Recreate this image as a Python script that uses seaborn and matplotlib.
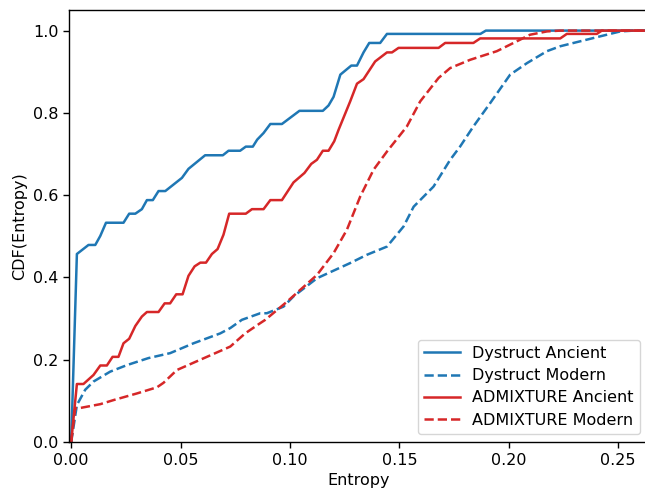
import matplotlib
matplotlib.use("Agg")
import matplotlib.pyplot as plt
import seaborn as sns
import pandas as pd

# Dystruct Ancient
dys_anc_x = [0.0, 0.0026, 0.0079, 0.011, 0.0133, 0.0159, 0.0239, 0.0265, 0.0293, 0.0323, 0.0346,
             0.0373, 0.0399, 0.043, 0.0506, 0.0536, 0.0612, 0.0693, 0.0719, 0.0772, 0.0798, 0.0830,
             0.0850, 0.0879, 0.091, 0.0963, 0.1043, 0.115, 0.1176, 0.1199, 0.123, 0.128, 0.1306,
             0.1336, 0.1362, 0.1412, 0.1443, 0.187, 0.1895, 0.27]
dys_anc_y = [0.0, 0.457, 0.479, 0.479, 0.501, 0.533, 0.533, 0.555, 0.555, 0.566, 0.588,
             0.588, 0.610, 0.610, 0.642, 0.664, 0.697, 0.697, 0.708, 0.708, 0.718, 0.718,
             0.735, 0.751, 0.773, 0.773, 0.805, 0.805, 0.818, 0.839, 0.893, 0.915, 0.915,
             0.947, 0.970, 0.970, 0.992, 0.992, 1.0, 1.0]

# Dystruct Modern
dys_mod_x = [0.0, 0.0026, 0.0064, 0.0102, 0.0178, 0.0255, 0.0353, 0.0452, 0.0559, 0.0681, 0.0727,
             0.078, 0.0864, 0.0894, 0.097, 0.1016, 0.1123, 0.1275, 0.1351, 0.1443, 0.1519, 0.1565,
             0.1656, 0.1732, 0.1777, 0.1838, 0.1915, 0.2006, 0.2083, 0.2174, 0.2235, 0.2326,
             0.2417, 0.2509, 0.257, 0.27]
dys_mod_y = [0.0, 0.090, 0.127, 0.147, 0.171, 0.187, 0.204, 0.216, 0.240, 0.264, 0.277,
             0.297, 0.313, 0.313, 0.329, 0.354, 0.398, 0.435, 0.455, 0.475, 0.524, 0.572,
             0.621, 0.686, 0.718, 0.767, 0.824, 0.893, 0.921, 0.950, 0.962, 0.974,
             0.986, 0.998, 1.0, 1.0]

# ADMIXTURE Ancient
adm_anc_x = [0.0, 0.0026, 0.0056, 0.0102, 0.0133, 0.0163, 0.0189, 0.0216, 0.0239, 0.0265, 0.0293,
             0.0323, 0.0346, 0.0399, 0.0427, 0.0452, 0.048, 0.0509, 0.0536, 0.0564, 0.059, 0.0616,
             0.0643, 0.0669, 0.0696, 0.0722, 0.0798, 0.0826, 0.0879, 0.091, 0.0963, 0.1016,
             0.1066, 0.1097, 0.1123, 0.115, 0.1176, 0.1202, 0.1222, 0.1275, 0.1306, 0.1336,
             0.1389, 0.1443, 0.1466, 0.1496, 0.1679, 0.1709, 0.1838, 0.1869, 0.2235, 0.2265,
             0.2402, 0.2425, 0.27]
adm_anc_y = [0.0, 0.141, 0.141, 0.163, 0.186, 0.186, 0.207, 0.207, 0.240, 0.251, 0.282,
             0.305, 0.316, 0.316, 0.337, 0.337, 0.359, 0.359, 0.404, 0.427, 0.436, 0.436,
             0.457, 0.469, 0.504, 0.555, 0.555, 0.566, 0.566, 0.588, 0.588, 0.631,
             0.654, 0.676, 0.686, 0.708, 0.708, 0.731, 0.759, 0.828, 0.871, 0.882,
             0.925, 0.947, 0.947, 0.958, 0.958, 0.970, 0.970, 0.981, 0.981, 0.992,
             0.992, 1.0, 1.0]

# ADMIXTURE Modern
adm_mod_x = [0.0, 0.0018, 0.0034, 0.0133, 0.0194, 0.03, 0.0392, 0.0422, 0.0483, 0.059, 0.0727,
             0.0795, 0.0864, 0.0887, 0.0986, 0.1047, 0.1123, 0.1199, 0.126, 0.1321, 0.1382,
             0.1443, 0.1534, 0.1595, 0.1679, 0.1732, 0.1823, 0.1945, 0.1991, 0.2097, 0.2174,
             0.2235, 0.27]
adm_mod_y = [0.0, 0.082, 0.082, 0.092, 0.102, 0.118, 0.133, 0.144, 0.175, 0.200, 0.232,
             0.264, 0.289, 0.297, 0.341, 0.370, 0.406, 0.459, 0.516, 0.597, 0.662,
             0.706, 0.767, 0.828, 0.885, 0.909, 0.929, 0.950, 0.962, 0.990, 0.998,
             1.0, 1.0]

series = [
    ("Dystruct Ancient", dys_anc_x, dys_anc_y, "#1f77b4", "-"),
    ("Dystruct Modern", dys_mod_x, dys_mod_y, "#1f77b4", "--"),
    ("ADMIXTURE Ancient", adm_anc_x, adm_anc_y, "#d62728", "-"),
    ("ADMIXTURE Modern", adm_mod_x, adm_mod_y, "#d62728", "--"),
]

FS = 11.5
plt.rcParams['font.family'] = ['DejaVu Sans']
plt.rcParams['font.size'] = FS
plt.rcParams['axes.linewidth'] = 1.0
plt.rcParams['xtick.major.size'] = 4.2
plt.rcParams['ytick.major.size'] = 4.2
plt.rcParams['xtick.major.width'] = 1.0
plt.rcParams['ytick.major.width'] = 1.0
plt.rcParams['legend.edgecolor'] = '0.8'

fig = plt.figure(figsize=(6.45, 4.92), dpi=100)
ax = fig.add_axes([0.107, 0.1016, 0.898, 0.878])

for name, xs, ys, color, ls in series:
    df = pd.DataFrame({"x": xs, "y": ys})
    sns.lineplot(data=df, x="x", y="y", ax=ax, color=color, linestyle=ls,
                 linewidth=1.8, label=name, sort=False, estimator=None)

ax.set_xlim(-0.001, 0.2637)
ax.set_ylim(0, 1.05)
ax.set_xticks([0.0, 0.05, 0.10, 0.15, 0.20, 0.25])
ax.set_xticklabels(["0.00", "0.05", "0.10", "0.15", "0.20", "0.25"])
ax.set_yticks([0.0, 0.2, 0.4, 0.6, 0.8, 1.0])
ax.tick_params(labelsize=FS)
ax.set_xlabel("Entropy", fontsize=FS)
ax.set_ylabel("CDF(Entropy)", fontsize=FS)
ax.legend(loc="lower right", fontsize=FS, handlelength=2.2, labelspacing=0.45)

fig.savefig("out.png", dpi=100)
